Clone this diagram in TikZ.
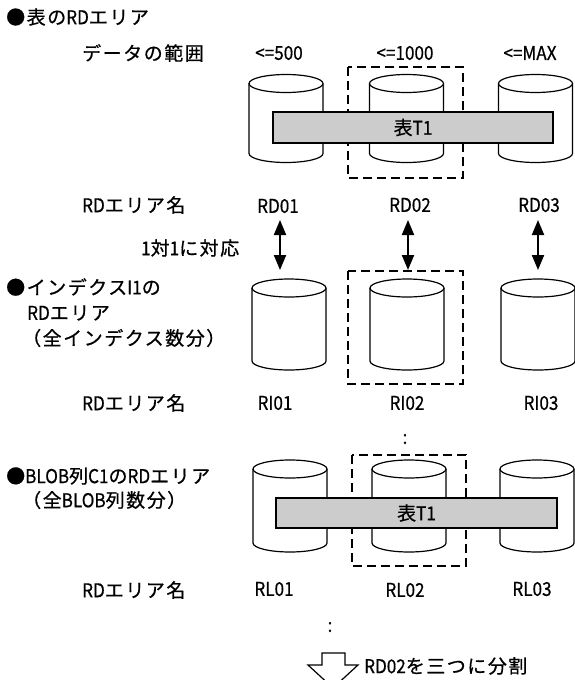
\documentclass[tikz,border=0pt]{standalone}
\usepackage{fontspec}
\setmainfont{Noto Sans CJK JP}[LetterSpace=8,FakeBold=0.6]
\newfontfamily\latfont{Noto Sans CJK JP}[FakeStretch=0.9,FakeBold=0.6]
\newcommand\latn[1]{{\latfont #1}}
\usetikzlibrary{arrows.meta}
\tikzset{
  lbl/.style={inner sep=0pt, font=\fontsize{19}{22}\selectfont},
  cylline/.style={line width=1.2pt, draw=black},
  dashbox/.style={line width=1.2pt, dash pattern=on 9pt off 5pt},
  tablebar/.style={draw=black, line width=1.2pt, fill=black!20, inner sep=0pt, font=\fontsize{19}{22}\selectfont},
  dblarrow/.style={line width=2pt, {Triangle[length=15pt,width=12pt]}-{Triangle[length=15pt,width=12pt]}},
  pics/dbcyl/.style={code={
    \draw[cylline, fill=white] (-37,0) -- (-37,#1) arc[start angle=180, end angle=0, x radius=37, y radius=9] -- (37,0);
    \draw[cylline, fill=white] (0,0) ellipse[x radius=37, y radius=9];
  }}
}
\begin{document}
\begin{tikzpicture}[x=1pt,y=-1pt]
\fill[white] (0,0) rectangle (575,680);
\useasboundingbox (0,0) rectangle (575,680);

% ---------- section 1 ----------
\node[lbl, anchor=west] (title1) at (6,17) {●表の\latn{RD}エリア};
\node[lbl, anchor=west] (range) at (82,53) {データの範囲};
\node[lbl] (r500) at (279,53) {\latn{<=500}};
\node[lbl] (r1000) at (405,53) {\latn{<=1000}};
\node[lbl] (rmax) at (530,53) {\latn{<=MAX}};

\pic at (286,83.5) {dbcyl=70};
\pic at (406.5,83.5) {dbcyl=70};
\pic at (535.5,83.5) {dbcyl=70};
\draw[dashbox] (348,67) rectangle (463,178);
\node[tablebar, minimum width=280pt, minimum height=31pt] (t1a) at (413,127.5) {表\latn{T1}};

\node[lbl, anchor=west] (name1) at (82,205) {\latn{RD}エリア名};
\node[lbl] (rd01) at (278,206) {\latn{RD01}};
\node[lbl] (rd02) at (410,205) {\latn{RD02}};
\node[lbl] (rd03) at (539,205) {\latn{RD03}};
\node[lbl, anchor=west] (onetoone) at (141,248) {\latn{1}対\latn{1}に対応};

\coordinate (a1s) at (280,220); \coordinate (a1e) at (280,270);
\coordinate (a2s) at (408,220); \coordinate (a2e) at (408,270);
\coordinate (a3s) at (538,220); \coordinate (a3e) at (538,270);
\draw[dblarrow] (a1s) -- (a1e);
\draw[dblarrow] (a2s) -- (a2e);
\draw[dblarrow] (a3s) -- (a3e);

% ---------- section 2 ----------
\node[lbl, anchor=west] (title2) at (6,287) {●インデクス\latn{I1}の};
\node[lbl, anchor=west] (title2b) at (27,313) {\latn{RD}エリア};
\node[lbl, anchor=west] (title2c) at (22,338) {（全インデクス数分）};

\pic at (289,288) {dbcyl=73};
\pic at (407,288) {dbcyl=73};
\pic at (538,288) {dbcyl=73};
\draw[dashbox] (348,271) rectangle (463,384);

\node[lbl, anchor=west] (name2) at (82,403) {\latn{RD}エリア名};
\node[lbl] (ri01) at (275,403) {\latn{RI01}};
\node[lbl] (ri02) at (407,403) {\latn{RI02}};
\node[lbl] (ri03) at (541,403) {\latn{RI03}};
\node[lbl] (dots1) at (405,439) {\latn{:}};

% ---------- section 3 ----------
\node[lbl, anchor=west] (title3) at (6,476) {●\latn{BLOB}列\latn{C1}の\latn{RD}エリア};
\node[lbl, anchor=west] (title3b) at (22,500) {（全\latn{BLOB}列数分）};

\pic at (290,469) {dbcyl=74};
\pic at (409,469) {dbcyl=74};
\pic at (537,469) {dbcyl=74};
\draw[dashbox] (352,455) rectangle (466,566);
\node[tablebar, minimum width=281pt, minimum height=30pt] (t1b) at (416.5,513) {表\latn{T1}};

\node[lbl, anchor=west] (name3) at (82,590) {\latn{RD}エリア名};
\node[lbl] (rl01) at (274,589) {\latn{RL01}};
\node[lbl] (rl02) at (405,590) {\latn{RL02}};
\node[lbl] (rl03) at (532,589) {\latn{RL03}};
\node[lbl] (dots2) at (330,627) {\latn{:}};

\draw[line width=1.2pt, fill=white] (322,653) -- (345,653) -- (345,665) -- (358,665) -- (333,688) -- (308,665) -- (322,665) -- cycle;
\node[lbl, anchor=west] (split) at (364,666) {\latn{RD02}を三つに分割};
\end{tikzpicture}
\end{document}
